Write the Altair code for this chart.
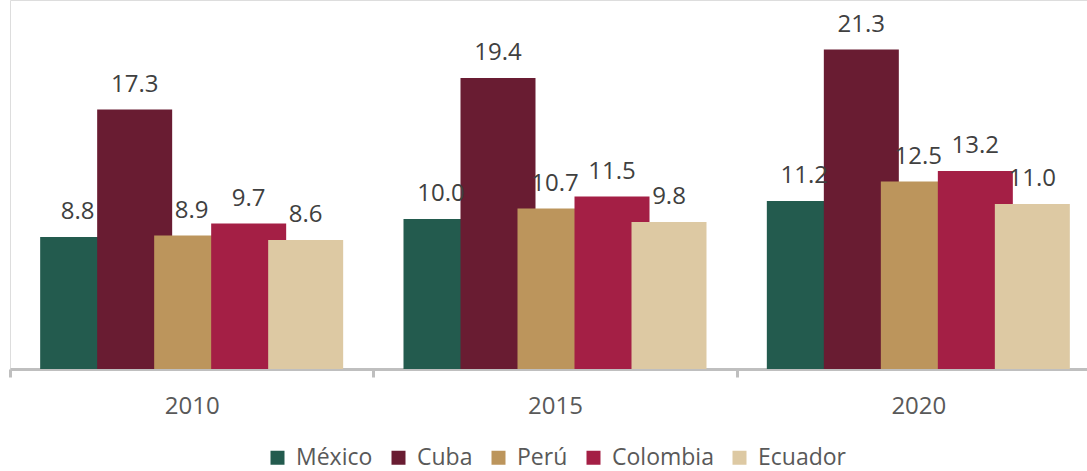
import altair as alt
import pandas as pd

years = ["2010", "2015", "2020"]
countries = ["México", "Cuba", "Perú", "Colombia", "Ecuador"]
colors = ["#235B4E", "#691C32", "#BC955C", "#A41F45", "#DDC9A3"]
values_2010 = [8.8, 17.3, 8.9, 9.7, 8.6]
values_2015 = [10.0, 19.4, 10.7, 11.5, 9.8]
values_2020 = [11.2, 21.3, 12.5, 13.2, 11.0]

rows = []
for yr, vals in zip(years, [values_2010, values_2015, values_2020]):
    for i, (c, v) in enumerate(zip(countries, vals)):
        rows.append({"year": yr, "country": c, "value": v, "order": i})
df = pd.DataFrame(rows)

FONT = "Open Sans"

x = alt.X("year:N", sort=years, title=None,
          scale=alt.Scale(range=[0, 1090], paddingInner=0, paddingOuter=0),
          axis=alt.Axis(labelAngle=0, labelFont=FONT, labelFontSize=24,
                        labelColor="#595959", labelPadding=17,
                        domainColor="#BFBFBF", domainWidth=3,
                        tickColor="#BFBFBF", tickWidth=3, tickSize=8,
                        tickBand="extent", grid=False))
xo = alt.XOffset("country:N", sort=countries,
                 scale=alt.Scale(paddingOuter=0.687, paddingInner=0))
y = alt.Y("value:Q", scale=alt.Scale(domain=[0, 24.6], nice=False, zero=True),
          axis=None)

bars = alt.Chart(df).mark_bar(width=75).encode(
    x=x, xOffset=xo, y=y,
    color=alt.Color("country:N", sort=countries,
                    scale=alt.Scale(domain=countries, range=colors),
                    legend=alt.Legend(title=None, orient="none", direction="horizontal",
                                      legendX=256, legendY=446,
                                      symbolType="square", symbolSize=196,
                                      symbolStrokeWidth=0, labelFont=FONT,
                                      labelFontSize=23, labelColor="#595959",
                                      labelOffset=7, columnPadding=14)),
    order=alt.Order("order:Q"),
)

labels = alt.Chart(df).mark_text(font=FONT, fontSize=24, color="#404040",
                                 baseline="alphabetic", dy=-18).encode(
    x=x, xOffset=xo, y=y,
    text=alt.Text("value:Q", format=".1f"),
)

chart = alt.layer(bars, labels).properties(
    width=1077, height=369,
    autosize=alt.AutoSizeParams(type="none"),
    padding={"left": 10, "right": 0, "top": 0, "bottom": 102},
).configure_view(strokeWidth=0).configure(background="white")

chart.save("out.html", embed_options={"renderer": "svg", "actions": False})
